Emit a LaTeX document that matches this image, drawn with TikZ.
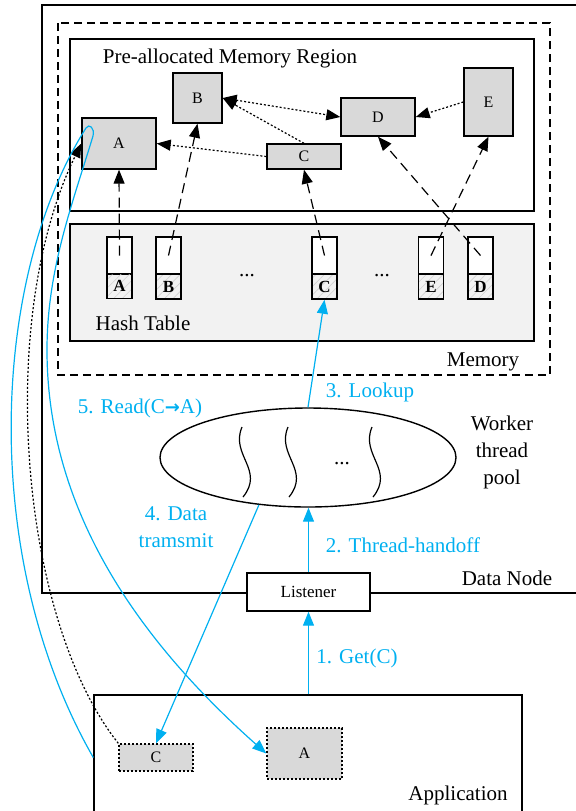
\documentclass[tikz,border=0pt]{standalone}
\usepackage{fontspec}
\setmainfont{Liberation Serif}
\newfontfamily\symfont{DejaVu Sans}
\usepackage{tikz}
\usetikzlibrary{arrows.meta, positioning, shapes.geometric, patterns.meta}
\definecolor{flowblue}{HTML}{00B0F0}

\begin{document}
\begin{tikzpicture}[
    x = 0.5pt, y = -0.5pt,
    font          = \fontsize{10.5}{13.5}\selectfont,
    >             = {Triangle[length=7pt, width=5.5pt]},
    frame/.style  = {draw, line width=0.7pt},
    obj/.style    = {draw, line width=0.7pt, fill=gray!30, inner sep=0pt,
                     font=\fontsize{8}{10}\selectfont},
    appobj/.style = {obj, dash pattern=on 1pt off 1pt},
    slot/.style   = {draw, line width=0.7pt, fill=white, inner sep=0pt,
                     minimum width=12.5pt, minimum height=18.5pt},
    keyc/.style   = {draw, line width=0.7pt, inner sep=0pt,
                     minimum width=12.5pt, minimum height=12.5pt,
                     pattern={Lines[angle=45, distance=3pt, line width=0.3pt]},
                     pattern color=gray!35,
                     font=\fontsize{8.5}{10}\selectfont\bfseries},
    ptr/.style    = {->, line width=0.6pt, dash pattern=on 5pt off 3pt},
    ref/.style    = {->, line width=0.6pt, dash pattern=on 1pt off 1pt},
    flow/.style   = {->, flowblue, line width=0.6pt},
    flowlbl/.style= {text=flowblue, align=center},
  ]
  \useasboundingbox (0,0) rectangle (575,811);

  % frames
  \draw[frame] (600,5) -- (42,5) -- (42,593) -- (600,593);
  \draw[line width=0.7pt, dash pattern=on 4pt off 2.5pt] (58,23) rectangle (550,375);
  \draw[frame] (70,39) rectangle (534,211);
  \draw[frame, fill=gray!10] (70,224) rectangle (534,341);

  \node at (230,58) {Pre-allocated Memory Region};
  \node at (143,323) {Hash Table};
  \node at (483,362) {Memory};
  \node at (507,578) {Data Node};

  % objects in the region
  \node[obj, minimum width=37pt, minimum height=25.5pt] (A) at (119,143.5) {A};
  \node[obj, minimum width=24.5pt, minimum height=25pt] (B) at (197.5,98) {B};
  \node[obj, minimum width=37pt, minimum height=12.5pt] (C) at (304,156.5) {C};
  \node[obj, minimum width=37pt, minimum height=19pt] (D) at (378,117) {D};
  \node[obj, minimum width=24.5pt, minimum height=34pt] (E) at (488.5,102) {E};

  \draw[ref] (C.west) -- (A.east);
  \draw[ref] (C.north) -- (B.east);
  \draw[ref, <->] (B.east) -- (D.west);
  \draw[ref] (E.west) -- (D.east);

  % hash table slots
  \foreach \k/\x in {A/119.5, B/168.5, C/324.5, E/431, D/480.5} {
    \node[slot] (s\k) at (\x,255.5) {};
    \node[keyc, below=-0.7pt of s\k] (k\k) {\k};
  }
  \node at (247,276) {...};
  \node at (382,276) {...};

  \draw[ptr] (sA.center) -- (A.south);
  \draw[ptr] (sB.center) -- (B.south);
  \draw[ptr] (sC.center) -- (C.south);
  \draw[ptr] (sE.center) -- (E.south);
  \draw[ptr] (sD.center) -- (D.south);

  % worker pool
  \node[draw, ellipse, line width=0.7pt, inner sep=0pt,
        minimum width=148pt, minimum height=49.5pt] (pool) at (308,457.5) {};
  \foreach \t in {242, 288, 372}
    \draw[line width=0.6pt] (\t,427) .. controls (\t-12,455) and (\t+23,470) .. (\t+1,497);
  \node at (342,464) {...};
  \node[align=center] at (502,452) {Worker\\thread\\pool};

  \node[draw, line width=0.7pt, fill=white, minimum width=61.5pt, minimum height=19pt,
        font=\fontsize{8.5}{10}\selectfont] (lis) at (308.5,592) {Listener};

  % application
  \node[frame, minimum width=214pt, minimum height=85pt] (app) at (308,780) {};
  \node at (458,795) {Application};
  \node[appobj, minimum width=37pt, minimum height=13.5pt] (appC) at (156,757.5) {C};
  \node[appobj, minimum width=37.5pt, minimum height=25.5pt] (appA) at (304.5,753.5) {A};

  % request flow
  \draw[flow] (lis.south |- app.north) -- (lis.south);
  \draw[flow] (lis.north) -- (lis.north |- pool.south);
  \draw[flow] (pool.north) -- (kC.south);
  \draw[flow] (pool.224) -- (appC.north);
  \draw[ref] (appC.north west) .. controls (20,620) and (-5,320) .. (A.west);
  \draw[flow] (app.west |- appC) .. controls (-20,560) and (-10,280) .. (86,128)
    .. controls (89,123) and (95,128) .. (93,136)
    .. controls (72,205) and (47,270) .. (47,350)
    .. controls (47,520) and (150,650) .. (appA.west);

  \node[flowlbl] at (357,658) {1. Get(C)};
  \node[flowlbl] at (403,545) {2. Thread-handoff};
  \node[flowlbl] at (370,392) {3. Lookup};
  \node[flowlbl] at (176,527) {4. Data\\tramsmit};
  \node[flowlbl] at (140,408) {5. Read(C{\symfont\bfseries\fontsize{9}{10}\selectfont →}A)};
\end{tikzpicture}
\end{document}
